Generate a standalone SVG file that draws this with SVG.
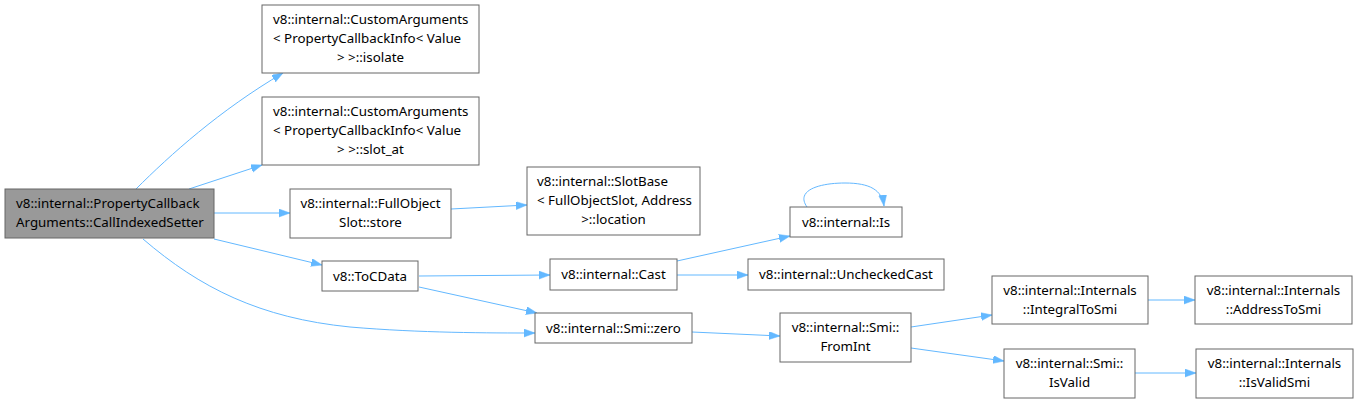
<svg xmlns="http://www.w3.org/2000/svg" width="1358" height="404" viewBox="0 0 1358 404">
<style>
.n rect{fill:#fff;stroke:#666;stroke-width:1}
.n.main rect{fill:#999}
text{font-family:"Noto Sans","DejaVu Sans",sans-serif;font-size:13.33px;fill:#000}
.c{text-anchor:middle}
#edges path{fill:none;stroke:#63b8ff;stroke-width:1;marker-end:url(#ah)}
</style>
<defs>
<marker id="ah" markerUnits="userSpaceOnUse" markerWidth="12" markerHeight="9" refX="11" refY="4" orient="auto">
<path d="M0,0 L11,4 L0,8 z" fill="#63b8ff" stroke="#63b8ff" stroke-width="0.5"/>
</marker>
</defs>
<rect width="1358" height="404" fill="#fff"/>
<g id="edges">
<path d="M136,189 C170,155 220,110 283,73"/>
<path d="M189,189 L262,165"/>
<path d="M214,213 L290,213"/>
<path d="M214,239 L322,265"/>
<path d="M143,239 C200,288 260,318 350,327 C420,333 490,333 535,333"/>
<path d="M451,209 L527,205"/>
<path d="M419,276 L550,275"/>
<path d="M419,287 L537,313"/>
<path d="M677,261 L790,236"/>
<path d="M677,275 L748,275"/>
<path d="M692,332 L780,336"/>
<path d="M911,327 L992,315"/>
<path d="M911,348 L1004,361"/>
<path d="M1148,300 L1195,300"/>
<path d="M1135,373 L1196,373"/>
<path d="M807,207 C795,190 820,183 845,183 C870,183 882,190 884,206"/>
</g>
<g id="node-main" class="n main"><rect x="5" y="189" width="209" height="49"/><text x="16" y="208">v8::internal::PropertyCallback</text><text x="16" y="227">Arguments::CallIndexedSetter</text></g>
<g id="node-isolate" class="n"><rect x="262" y="5" width="217" height="68"/><text x="273" y="24">v8::internal::CustomArguments</text><text x="273" y="43">&lt; PropertyCallbackInfo&lt; Value</text><text class="c" x="370.5" y="62">&gt; &gt;::isolate</text></g>
<g id="node-slot_at" class="n"><rect x="262" y="97" width="217" height="68"/><text x="273" y="116">v8::internal::CustomArguments</text><text x="273" y="135">&lt; PropertyCallbackInfo&lt; Value</text><text class="c" x="370.5" y="154">&gt; &gt;::slot_at</text></g>
<g id="node-store" class="n"><rect x="290" y="189" width="161" height="49"/><text class="c" x="370.5" y="208">v8::internal::FullObject</text><text class="c" x="370.5" y="227">Slot::store</text></g>
<g id="node-location" class="n"><rect x="527" y="167" width="173" height="68"/><text x="537" y="186">v8::internal::SlotBase</text><text x="537" y="205">&lt; FullObjectSlot, Address</text><text class="c" x="613.5" y="224">&gt;::location</text></g>
<g id="node-is" class="n"><rect x="790" y="207" width="112" height="30"/><text class="c" x="846" y="226.5">v8::internal::Is</text></g>
<g id="node-cast" class="n"><rect x="550" y="259" width="127" height="31"/><text class="c" x="613.5" y="279">v8::internal::Cast</text></g>
<g id="node-unchecked" class="n"><rect x="748" y="259" width="196" height="31"/><text class="c" x="846" y="279">v8::internal::UncheckedCast</text></g>
<g id="node-tocdata" class="n"><rect x="322" y="261" width="96" height="30"/><text class="c" x="370" y="280.5">v8::ToCData</text></g>
<g id="node-zero" class="n"><rect x="535" y="313" width="157" height="30"/><text class="c" x="613.5" y="332.5">v8::internal::Smi::zero</text></g>
<g id="node-fromint" class="n"><rect x="780" y="313" width="131" height="49"/><text class="c" x="845.5" y="332">v8::internal::Smi::</text><text class="c" x="845.5" y="351">FromInt</text></g>
<g id="node-integral" class="n"><rect x="992" y="276" width="156" height="48"/><text class="c" x="1070" y="295">v8::internal::Internals</text><text class="c" x="1070" y="314">::IntegralToSmi</text></g>
<g id="node-address" class="n"><rect x="1195" y="276" width="157" height="48"/><text class="c" x="1273.5" y="295">v8::internal::Internals</text><text class="c" x="1273.5" y="314">::AddressToSmi</text></g>
<g id="node-isvalid" class="n"><rect x="1004" y="349" width="131" height="49"/><text class="c" x="1069.5" y="368">v8::internal::Smi::</text><text class="c" x="1069.5" y="387">IsValid</text></g>
<g id="node-isvalidsmi" class="n"><rect x="1196" y="349" width="157" height="49"/><text class="c" x="1274.5" y="368">v8::internal::Internals</text><text class="c" x="1274.5" y="387">::IsValidSmi</text></g>
</svg>
